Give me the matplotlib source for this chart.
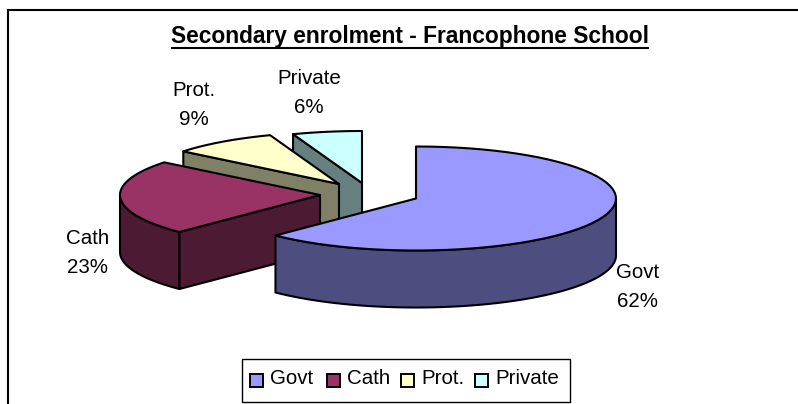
import numpy as np
import matplotlib
matplotlib.use("Agg")
import matplotlib.pyplot as plt
from matplotlib.patches import Polygon, Rectangle

plt.rcParams['font.family'] = ['Liberation Sans', 'DejaVu Sans']

categories = ['Govt', 'Cath', 'Prot.', 'Private']
values = [62.4, 23.4, 8.6, 5.6]
colors = ['#9999FF', '#993366', '#FFFFCC', '#CCFFFF']
sides = ['#4D4D80', '#4D1A33', '#808066', '#668080']

# wedge tips in pixels, the pie is exploded
centers = [(416, 198.5), (320, 195), (339, 184), (362, 183)]
label_pos = [(638, 287), (88, 253), (194, 105), (309, 93)]
RX, RY, DEPTH = 200, 52, 57


def arc(cx, cy, a0, a1):
    t = np.radians(np.linspace(a0, a1, 60))
    return np.column_stack([cx + RX*np.sin(t), cy - RY*np.cos(t)])


fig = plt.figure(figsize=(7.98, 4.04), dpi=100)
ax = fig.add_axes([0, 0, 1, 1])
ax.set_xlim(0, 798)
ax.set_ylim(404, 0)
ax.axis('off')

# chart frame runs off the right and bottom of the picture
ax.add_patch(Rectangle((8, 9.5), 820, 420, fc='white', ec='black', lw=1.5))

starts = np.cumsum([0] + values[:-1]) / sum(values) * 360
ends = np.cumsum(values) / sum(values) * 360

# back to front
for i in [3, 2, 1, 0]:
    cx, cy = centers[i]
    a0, a1 = starts[i], ends[i]
    edge = dict(ec='black', lw=1.5, joinstyle='round')
    # cut face on the left hand side of the slice
    if i > 1:
        p = arc(cx, cy, a0, a0)[0]
        ax.add_patch(Polygon([(cx, cy), p, p + [0, DEPTH], (cx, cy + DEPTH)], fc=sides[i], **edge))
    # outer wall, only the part facing the viewer
    lo, hi = max(a0, 90), min(a1, 270)
    if lo < hi:
        top = arc(cx, cy, lo, hi)
        ax.add_patch(Polygon(np.vstack([top, (top + [0, DEPTH])[::-1]]), fc=sides[i], **edge))
    if i == 1:
        # cut face towards the front
        p = arc(cx, cy, a0, a0)[0]
        ax.add_patch(Polygon([(cx, cy), p, p + [0, DEPTH], (cx, cy + DEPTH)], fc=sides[i], **edge))
    ax.add_patch(Polygon(np.vstack([[(cx, cy)], arc(cx, cy, a0, a1)]), fc=colors[i], **edge))
    pct = round(values[i] / sum(values) * 100)
    ax.text(*label_pos[i], f"{categories[i]}\n{pct}%", ha='center', va='center',
            fontsize=14.8, color='black', linespacing=1.7)

title = ax.text(410, 36.5, 'Secondary enrolment - Francophone School', ha='center', va='center',
                fontsize=16.4, fontweight='bold', color='black')
fig.canvas.draw()
bb = title.get_window_extent().transformed(ax.transData.inverted())
ax.plot([bb.x0, bb.x1], [47.5, 47.5], color='black', lw=1.5, solid_capstyle='butt')

# legend box
ax.add_patch(Rectangle((242, 359), 328, 42.5, fc='white', ec='black', lw=1))
legend_x = [250, 327, 401, 475]
for x, c, name in zip(legend_x, colors, categories):
    ax.add_patch(Rectangle((x, 374), 12.5, 12.5, fc=c, ec='black', lw=1.4))
    ax.text(x + 20, 378.5, name, ha='left', va='center', fontsize=14.8, color='black')

fig.savefig('out.png', dpi=100)
